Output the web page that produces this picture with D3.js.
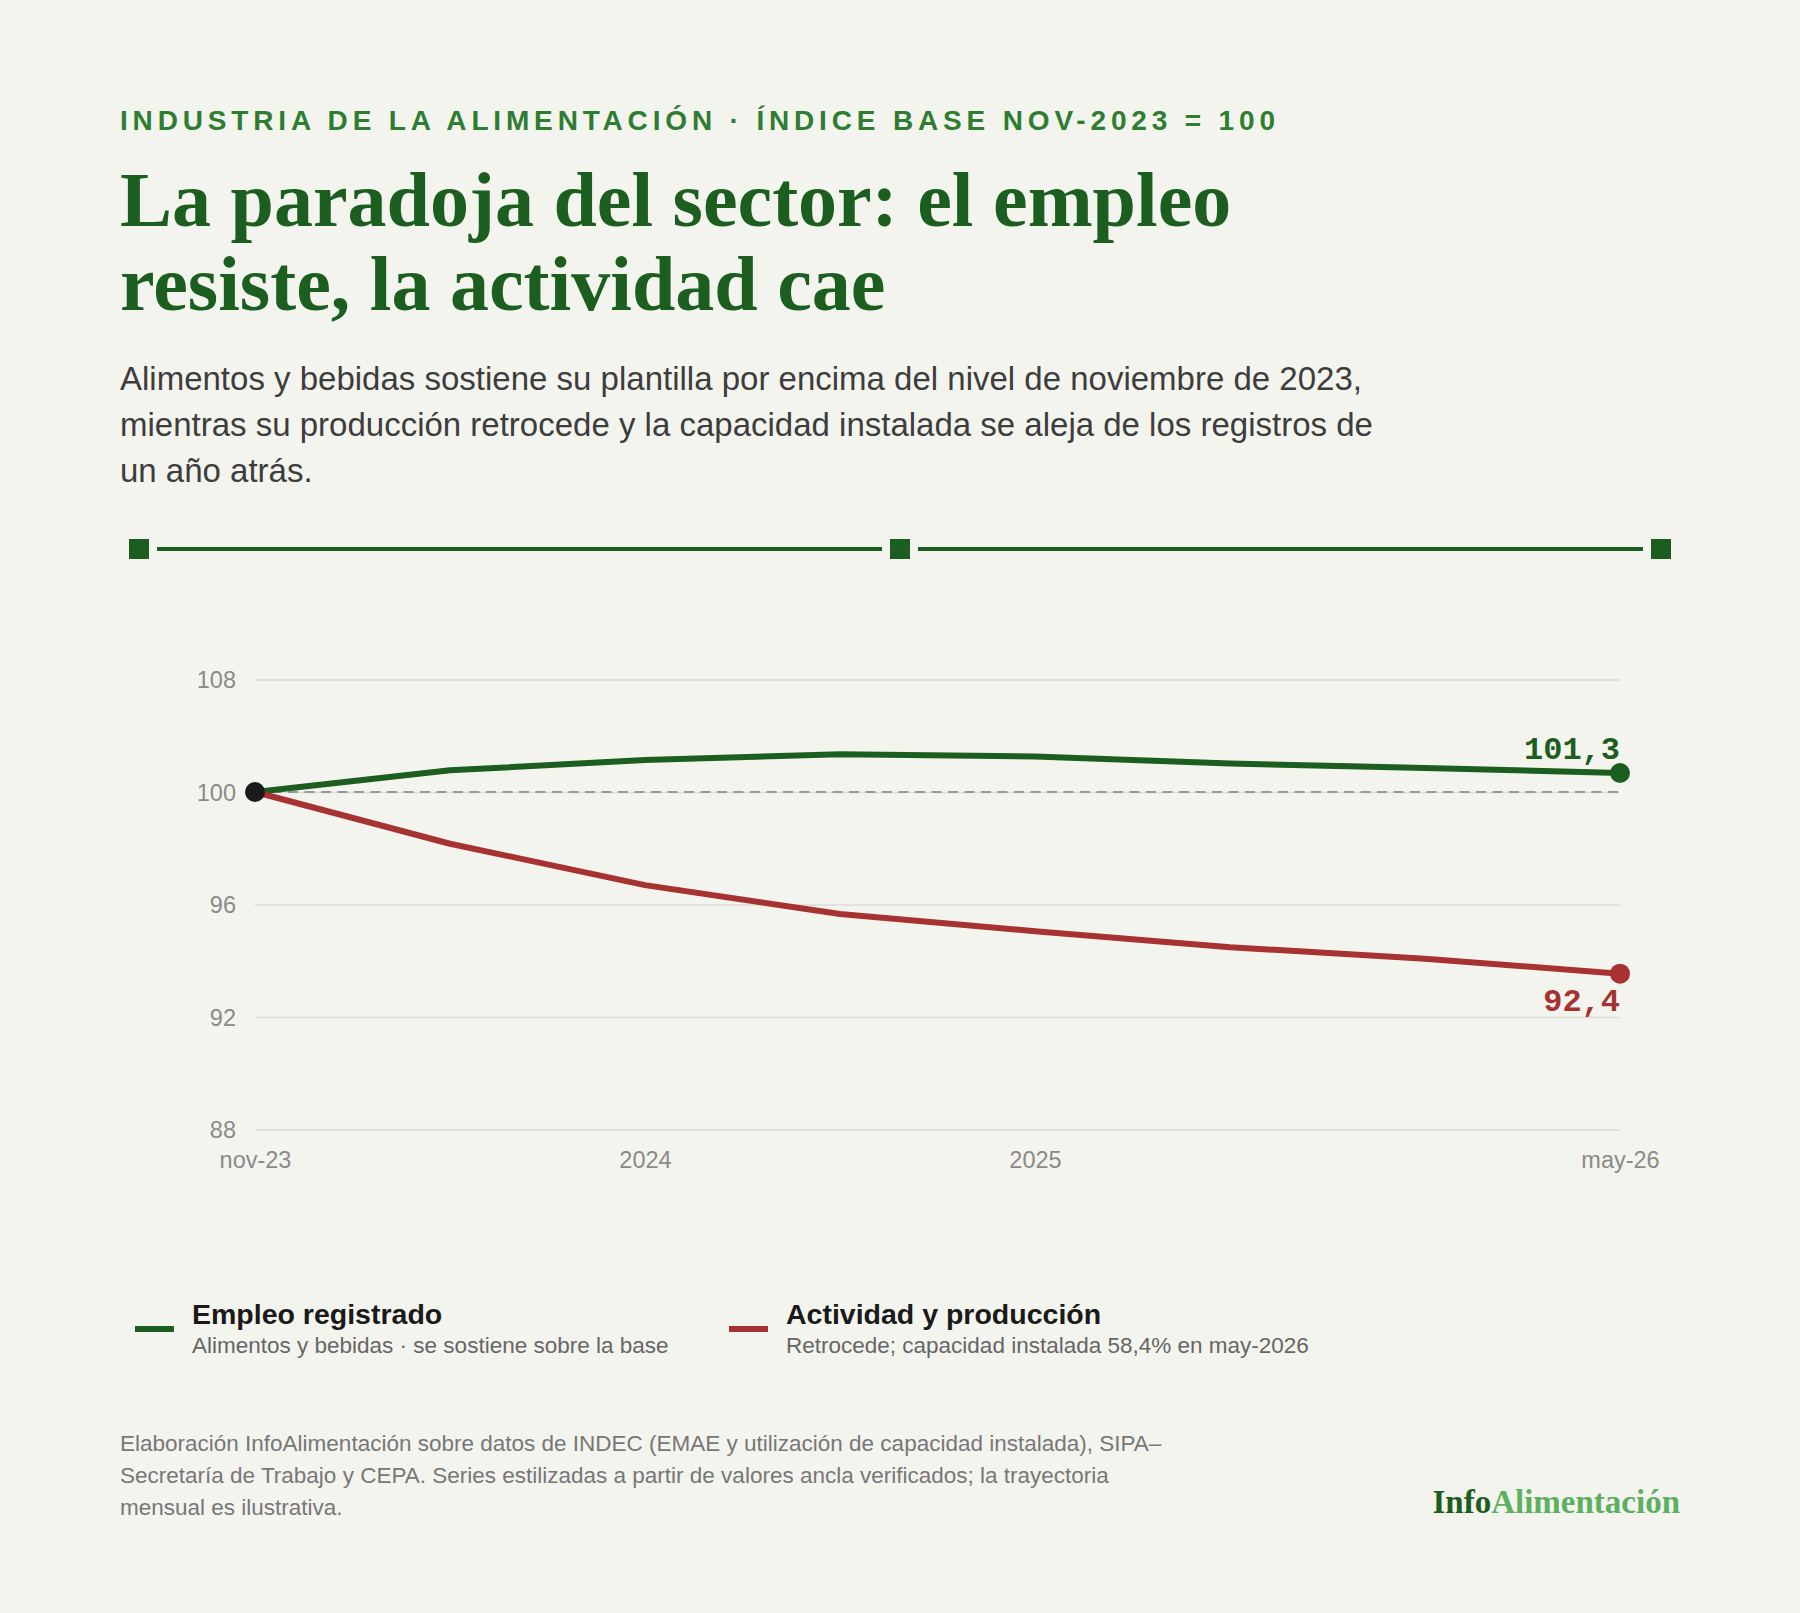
<!DOCTYPE html>
<html lang="es">
<head>
  <meta charset="UTF-8">
  <title>La paradoja del sector</title>
  <script src="https://cdn.jsdelivr.net/npm/d3@7"></script>
  <style>
    body { margin: 0; background: #f4f4ee; }
    svg { display: block; }
    .sans { font-family: "Liberation Sans", Arial, sans-serif; }
    .serif { font-family: "Liberation Serif", "Times New Roman", serif; }
    .mono { font-family: "Liberation Mono", "Courier New", monospace; }
    .axis text { font-family: "Liberation Sans", Arial, sans-serif; font-size: 23.5px; fill: #8a8a8a; }
    .axis .domain { display: none; }
    .grid line { stroke: #dcdcd6; stroke-width: 1.5; }
  </style>
</head>
<body>
<svg id="chart"></svg>
<script>
  // data (index base nov-2023 = 100)
  const xTickLabels = ["nov-23", "", "2024", "", "2025", "", "", "may-26"];
  const empleo = [100, 101.54, 102.28, 102.69, 102.52, 102.03, 101.71, 101.35];
  const actividad = [100, 98.16, 96.69, 95.66, 95.05, 94.48, 94.07, 93.54];
  const yTicks = [88, 92, 96, 100, 108];
  const endLabels = ["101,3", "92,4"];

  const seriesNames = ["Empleo registrado", "Actividad y producción"];
  const seriesNotes = ["Alimentos y bebidas · se sostiene sobre la base",
                       "Retrocede; capacidad instalada 58,4% en may-2026"];
  const colors = ["#1b5e20", "#a63232"];

  const W = 1800, H = 1613;
  const svg = d3.select("#chart").attr("width", W).attr("height", H);

  // header
  svg.append("text").attr("class", "sans").attr("x", 120).attr("y", 130)
    .attr("font-size", 28).attr("font-weight", "bold").attr("letter-spacing", 4.84)
    .attr("fill", "#2e7d32")
    .text("INDUSTRIA DE LA ALIMENTACIÓN · ÍNDICE BASE NOV-2023 = 100");

  const title = svg.append("text").attr("class", "serif")
    .attr("font-size", 78).attr("font-weight", "bold").attr("fill", "#1b5e20");
  ["La paradoja del sector: el empleo", "resiste, la actividad cae"].forEach((t, i) => {
    title.append("tspan").attr("x", 120).attr("y", 226 + i * 84).text(t);
  });

  const sub = svg.append("text").attr("class", "sans").attr("font-size", 33).attr("fill", "#3d3d3d");
  ["Alimentos y bebidas sostiene su plantilla por encima del nivel de noviembre de 2023,",
   "mientras su producción retrocede y la capacidad instalada se aleja de los registros de",
   "un año atrás."].forEach((t, i) => {
    sub.append("tspan").attr("x", 120).attr("y", 390 + i * 46).text(t);
  });

  // decorative rule
  const rule = svg.append("g").attr("fill", "#1b5e20");
  [139, 900, 1661].forEach(cx => rule.append("rect").attr("x", cx - 10).attr("y", 539).attr("width", 20).attr("height", 20));
  [[157, 882], [918, 1643]].forEach(s => rule.append("line")
    .attr("x1", s[0]).attr("x2", s[1]).attr("y1", 549).attr("y2", 549)
    .attr("stroke", "#1b5e20").attr("stroke-width", 4));

  // chart
  const plotL = 255, plotR = 1620, plotT = 679.5, plotB = 1129.5;
  const x = d3.scalePoint().domain(d3.range(xTickLabels.length)).range([plotL, plotR]);
  const y = d3.scaleLinear().domain(yTicks)
    .range(yTicks.map((d, i) => plotB - i * (plotB - plotT) / (yTicks.length - 1)));

  svg.append("g").attr("class", "axis grid").attr("transform", `translate(${plotL},0)`)
    .call(d3.axisLeft(y).tickValues(yTicks).tickSize(-(plotR - plotL)).tickPadding(19))
    .selectAll("text").attr("dy", "0.35em");

  svg.append("g").attr("class", "axis").attr("transform", `translate(0,${plotB})`)
    .call(d3.axisBottom(x).tickSize(0).tickPadding(22).tickFormat(i => xTickLabels[i]));

  svg.append("line").attr("x1", plotL).attr("x2", plotR).attr("y1", y(100)).attr("y2", y(100))
    .attr("stroke", "#999").attr("stroke-width", 2).attr("stroke-dasharray", "10 6.5");

  const line = d3.line().x((d, i) => x(i)).y(d => y(d));
  [empleo, actividad].forEach((s, k) => {
    svg.append("path").datum(s).attr("d", line).attr("fill", "none")
      .attr("stroke", colors[k]).attr("stroke-width", 6).attr("stroke-linejoin", "round");
    const last = s.length - 1;
    svg.append("circle").attr("cx", x(last)).attr("cy", y(s[last])).attr("r", 10).attr("fill", colors[k]);
    svg.append("text").attr("class", "mono").attr("x", plotR).attr("y", y(s[last]) + (k === 0 ? -14 : 37))
      .attr("text-anchor", "end").attr("font-size", 32).attr("font-weight", "bold")
      .attr("fill", colors[k]).text(endLabels[k]);
  });
  svg.append("circle").attr("cx", x(0)).attr("cy", y(empleo[0])).attr("r", 10).attr("fill", "#1a1a1a");

  // legend
  [135, 729].forEach((lx, k) => {
    const g = svg.append("g").attr("transform", `translate(${lx},0)`);
    g.append("rect").attr("x", 0).attr("y", 1326).attr("width", 39).attr("height", 6).attr("fill", colors[k]);
    g.append("text").attr("class", "sans").attr("x", 57).attr("y", 1324)
      .attr("font-size", 28.5).attr("font-weight", "bold").attr("fill", "#1a1a1a").text(seriesNames[k]);
    g.append("text").attr("class", "sans").attr("x", 57).attr("y", 1353)
      .attr("font-size", 22.5).attr("fill", "#666").text(seriesNotes[k]);
  });

  // footer
  const foot = svg.append("text").attr("class", "sans").attr("font-size", 22.5).attr("fill", "#777");
  ["Elaboración InfoAlimentación sobre datos de INDEC (EMAE y utilización de capacidad instalada), SIPA–",
   "Secretaría de Trabajo y CEPA. Series estilizadas a partir de valores ancla verificados; la trayectoria",
   "mensual es ilustrativa."].forEach((t, i) => {
    foot.append("tspan").attr("x", 120).attr("y", 1451 + i * 32).text(t);
  });

  const logo = svg.append("text").attr("class", "serif").attr("x", 1680).attr("y", 1513)
    .attr("text-anchor", "end").attr("font-size", 33).attr("font-weight", "bold");
  logo.append("tspan").attr("fill", "#1b5e20").text("Info");
  logo.append("tspan").attr("fill", "#5cb060").text("Alimentación");
</script>
</body>
</html>
